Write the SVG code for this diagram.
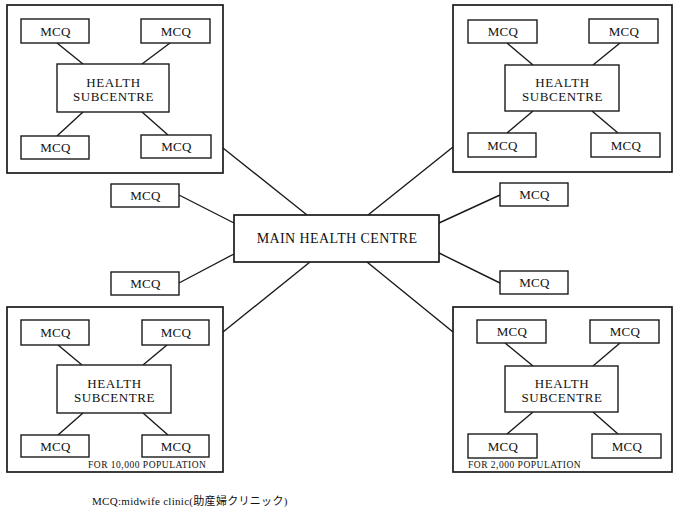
<svg xmlns="http://www.w3.org/2000/svg" width="678" height="515" viewBox="0 0 678 515">
<style>
  .bg { fill: #ffffff; }
  .outer { fill: none; stroke: #1a1a1a; stroke-width: 1.7; }
  .box { fill: #ffffff; stroke: #1a1a1a; stroke-width: 1.4; }
  .main { fill: #ffffff; stroke: #1a1a1a; stroke-width: 1.7; }
  .ln { stroke: #1a1a1a; stroke-width: 1.4; fill: none; }
  text { font-family: "Liberation Serif", "DejaVu Serif", serif; fill: #111; text-anchor: middle; }
  .mcq { font-size: 13px; letter-spacing: 0.3px; }
  .hs { font-size: 13px; letter-spacing: 0.6px; }
  .mhc { font-size: 14px; letter-spacing: 0.4px; }
  .pop { font-size: 9.5px; letter-spacing: 0.5px; text-anchor: start; }
  .note { font-size: 11px; letter-spacing: 0.3px; text-anchor: start; font-family: "Liberation Serif", "Noto Sans CJK JP", serif; }
</style>
<rect class="bg" x="0" y="0" width="678" height="515"/>

<g id="connectors">
  <line class="ln" x1="223" y1="148" x2="307" y2="215"/>
  <line class="ln" x1="453" y1="147" x2="368" y2="215"/>
  <line class="ln" x1="223" y1="332" x2="310" y2="262"/>
  <line class="ln" x1="453" y1="332" x2="367" y2="262"/>
  <line class="ln" x1="179" y1="195" x2="234" y2="223"/>
  <line class="ln" x1="179" y1="283" x2="234" y2="254"/>
  <line class="ln" x1="439" y1="223" x2="500" y2="195"/>
  <line class="ln" x1="439" y1="253" x2="500" y2="283"/>
  <line class="ln" x1="57" y1="43" x2="83" y2="64"/>
  <line class="ln" x1="170" y1="43" x2="142" y2="64"/>
  <line class="ln" x1="83" y1="112" x2="57" y2="136"/>
  <line class="ln" x1="142" y1="112" x2="168" y2="135"/>
  <line class="ln" x1="507" y1="43" x2="533" y2="65"/>
  <line class="ln" x1="620" y1="43" x2="593" y2="65"/>
  <line class="ln" x1="533" y1="111" x2="507" y2="133"/>
  <line class="ln" x1="592" y1="111" x2="618" y2="133"/>
  <line class="ln" x1="58" y1="345" x2="82" y2="365"/>
  <line class="ln" x1="167" y1="345" x2="143" y2="365"/>
  <line class="ln" x1="83" y1="413" x2="58" y2="435"/>
  <line class="ln" x1="143" y1="413" x2="168" y2="435"/>
  <line class="ln" x1="505" y1="343" x2="533" y2="366"/>
  <line class="ln" x1="620" y1="343" x2="593" y2="366"/>
  <line class="ln" x1="533" y1="412" x2="507" y2="434"/>
  <line class="ln" x1="593" y1="412" x2="618" y2="434"/>
</g>

<g id="main-health-centre">
  <rect class="main" x="234" y="215" width="205" height="47"/>
  <text class="mhc" x="337" y="243">MAIN HEALTH CENTRE</text>
</g>

<g id="mcq-left-upper">
  <rect class="box" x="111" y="184" width="68" height="23"/>
  <text class="mcq" x="145.5" y="200">MCQ</text>
</g>
<g id="mcq-left-lower">
  <rect class="box" x="111" y="272" width="68" height="23"/>
  <text class="mcq" x="145.5" y="288">MCQ</text>
</g>
<g id="mcq-right-upper">
  <rect class="box" x="500" y="183" width="68" height="23"/>
  <text class="mcq" x="534.5" y="199">MCQ</text>
</g>
<g id="mcq-right-lower">
  <rect class="box" x="500" y="271" width="68" height="23"/>
  <text class="mcq" x="534.5" y="287">MCQ</text>
</g>

<g id="cluster-top-left">
  <rect class="outer" x="7" y="5" width="216" height="168"/>
  <g id="tl-mcq1"><rect class="box" x="21" y="19" width="68" height="24"/><text class="mcq" x="55.5" y="35.5">MCQ</text></g>
  <g id="tl-mcq2"><rect class="box" x="141" y="19" width="69" height="24"/><text class="mcq" x="176" y="35.5">MCQ</text></g>
  <g id="tl-hs"><rect class="box" x="57" y="64" width="112" height="48"/><text class="hs" x="113.5" y="87">HEALTH</text><text class="hs" x="113.5" y="101">SUBCENTRE</text></g>
  <g id="tl-mcq3"><rect class="box" x="21" y="136" width="68" height="23"/><text class="mcq" x="55.5" y="152">MCQ</text></g>
  <g id="tl-mcq4"><rect class="box" x="141" y="135" width="70" height="23"/><text class="mcq" x="176.5" y="151">MCQ</text></g>
</g>

<g id="cluster-top-right">
  <rect class="outer" x="453" y="5" width="219" height="167"/>
  <g id="tr-mcq1"><rect class="box" x="468" y="20" width="69" height="23"/><text class="mcq" x="503" y="36">MCQ</text></g>
  <g id="tr-mcq2"><rect class="box" x="589" y="19" width="69" height="24"/><text class="mcq" x="624" y="35.5">MCQ</text></g>
  <g id="tr-hs"><rect class="box" x="505" y="65" width="114" height="46"/><text class="hs" x="562.5" y="86.5">HEALTH</text><text class="hs" x="562.5" y="100.5">SUBCENTRE</text></g>
  <g id="tr-mcq3"><rect class="box" x="468" y="133" width="68" height="24"/><text class="mcq" x="502.5" y="149.5">MCQ</text></g>
  <g id="tr-mcq4"><rect class="box" x="591" y="133" width="69" height="24"/><text class="mcq" x="626" y="149.5">MCQ</text></g>
</g>

<g id="cluster-bottom-left">
  <rect class="outer" x="7" y="307" width="216" height="165"/>
  <g id="bl-mcq1"><rect class="box" x="21" y="320" width="68" height="25"/><text class="mcq" x="55.5" y="337">MCQ</text></g>
  <g id="bl-mcq2"><rect class="box" x="142" y="320" width="67" height="25"/><text class="mcq" x="176" y="337">MCQ</text></g>
  <g id="bl-hs"><rect class="box" x="57" y="365" width="114" height="48"/><text class="hs" x="114.5" y="388">HEALTH</text><text class="hs" x="114.5" y="402">SUBCENTRE</text></g>
  <g id="bl-mcq3"><rect class="box" x="21" y="435" width="68" height="22"/><text class="mcq" x="55.5" y="450.5">MCQ</text></g>
  <g id="bl-mcq4"><rect class="box" x="142" y="435" width="67" height="22"/><text class="mcq" x="176" y="450.5">MCQ</text></g>
  <text class="pop" x="88" y="468">FOR 10,000 POPULATION</text>
</g>

<g id="cluster-bottom-right">
  <rect class="outer" x="453" y="307" width="219" height="165"/>
  <g id="br-mcq1"><rect class="box" x="477" y="320" width="69" height="23"/><text class="mcq" x="512" y="336">MCQ</text></g>
  <g id="br-mcq2"><rect class="box" x="590" y="320" width="69" height="23"/><text class="mcq" x="625" y="336">MCQ</text></g>
  <g id="br-hs"><rect class="box" x="505" y="366" width="113" height="46"/><text class="hs" x="562" y="387.5">HEALTH</text><text class="hs" x="562" y="401.5">SUBCENTRE</text></g>
  <g id="br-mcq3"><rect class="box" x="468" y="434" width="69" height="24"/><text class="mcq" x="503" y="450.5">MCQ</text></g>
  <g id="br-mcq4"><rect class="box" x="592" y="434" width="69" height="24"/><text class="mcq" x="627" y="450.5">MCQ</text></g>
  <text class="pop" x="468" y="468">FOR 2,000 POPULATION</text>
</g>

<g id="legend">
  <text class="note" x="92" y="505">MCQ:midwife clinic(助産婦クリニック)</text>
</g>
</svg>
